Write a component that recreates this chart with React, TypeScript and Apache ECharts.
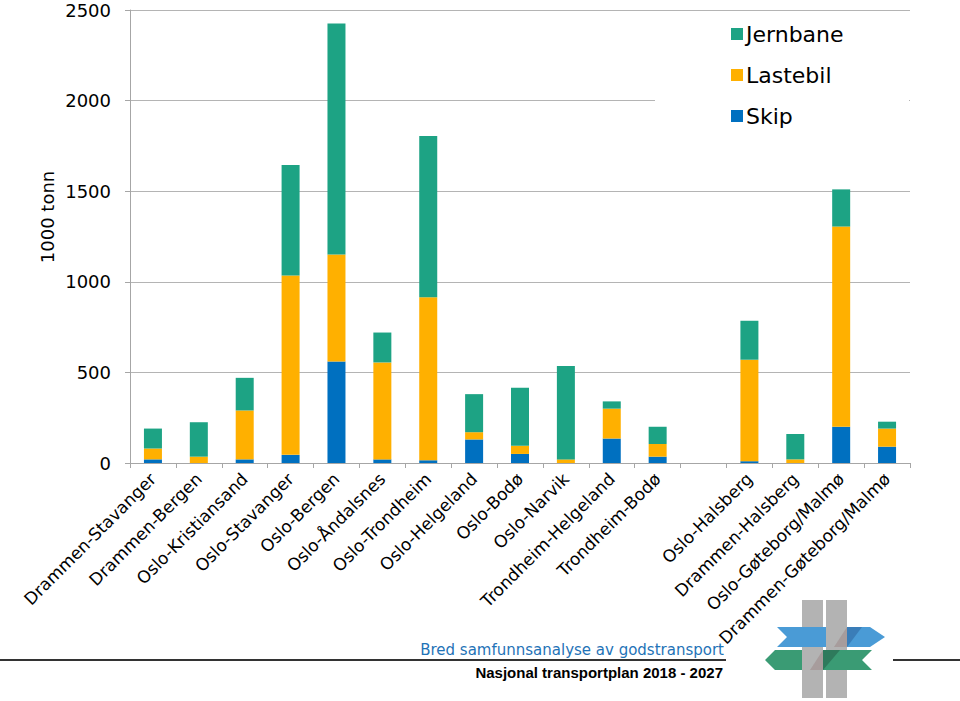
import React, { useEffect, useRef } from "react";
import * as echarts from "echarts";

const categories = [
  "Drammen-Stavanger", "Drammen-Bergen", "Oslo-Kristiansand", "Oslo-Stavanger",
  "Oslo-Bergen", "Oslo-Åndalsnes", "Oslo-Trondheim", "Oslo-Helgeland", "Oslo-Bodø",
  "Oslo-Narvik", "Trondheim-Helgeland", "Trondheim-Bodø", "", "Oslo-Halsberg",
  "Drammen-Halsberg", "Oslo-Gøteborg/Malmø", "Drammen-Gøteborg/Malmø",
];
const skip = [20, 0, 20, 45, 560, 20, 15, 130, 50, 0, 135, 35, null, 10, 0, 200, 90];
const lastebil = [60, 35, 270, 990, 590, 535, 900, 40, 45, 20, 165, 70, null, 560, 20, 1105, 100];
const jernbane = [110, 190, 180, 610, 1275, 165, 890, 210, 320, 515, 40, 95, null, 215, 140, 205, 38];
const seriesNames = ["Skip", "Lastebil", "Jernbane"];
const legendOrder = ["Jernbane", "Lastebil", "Skip"];
const yTicks = { min: 0, max: 2500, interval: 500 };
const yAxisTitle = "1000 tonn";
const footerTop = "Bred samfunnsanalyse av godstransport";
const footerBottom = "Nasjonal transportplan 2018 - 2027";

const COLORS = { Skip: "#0070C0", Lastebil: "#FFB000", Jernbane: "#1DA384" };
const FONT = "DejaVu Sans, Verdana, sans-serif";

export default function App() {
  const ref = useRef<HTMLDivElement>(null);
  useEffect(() => {
    if (!ref.current) return;
    const chart = echarts.init(ref.current, undefined, { renderer: "svg" });
    const dataMap: Record<string, (number | null)[]> = { Skip: skip, Lastebil: lastebil, Jernbane: jernbane };
    const grey = "#A6A6A6";
    const logoGrey = "#B3B3B3";
    chart.setOption({
      animation: false,
      grid: { left: 130, top: 10, width: 780, height: 453, containLabel: false },
      legend: {
        data: legendOrder,
        orient: "vertical",
        left: 726,
        top: 17,
        itemWidth: 12,
        itemHeight: 12,
        itemGap: 17,
        icon: "rect",
        textStyle: { fontFamily: FONT, fontSize: 22, color: "#000", lineHeight: 24, padding: [0, 0, 0, -2] },
        z: 10,
      },
      xAxis: {
        type: "category",
        data: categories,
        axisLine: { lineStyle: { color: grey, width: 1 } },
        axisTick: { show: true, length: 5, alignWithLabel: false, lineStyle: { color: grey } },
        axisLabel: {
          interval: 0,
          rotate: 45,
          margin: 13,
          fontFamily: FONT,
          fontSize: 17,
          color: "#000",
        },
      },
      yAxis: {
        type: "value",
        min: yTicks.min,
        max: yTicks.max,
        interval: yTicks.interval,
        axisLine: { show: true, lineStyle: { color: grey } },
        axisTick: { show: true, length: 5, lineStyle: { color: grey } },
        splitLine: { show: true, lineStyle: { color: "#B4B4B4", width: 1 } },
        axisLabel: { margin: 19, fontFamily: FONT, fontSize: 18, color: "#000", formatter: (v: number) => String(v) },
      },
      series: seriesNames.map((name) => ({
        name,
        type: "bar",
        stack: "total",
        barWidth: 18,
        data: dataMap[name],
        itemStyle: { color: (COLORS as any)[name] },
        z: 3,
      })),
      graphic: [
        { type: "rect", z: 1, shape: { x: 655, y: 14, width: 254, height: 172 }, style: { fill: "#fff" } },
        {
          type: "text", z: 5, x: 47, y: 217, rotation: Math.PI / 2,
          style: { text: yAxisTitle, fontFamily: FONT, fontSize: 18, fill: "#000", textAlign: "center", textVerticalAlign: "middle" },
        },
        { type: "rect", z: 5, shape: { x: 0, y: 659, width: 726, height: 2 }, style: { fill: "#333" } },
        { type: "rect", z: 5, shape: { x: 893, y: 659, width: 67, height: 2 }, style: { fill: "#333" } },
        {
          type: "text", z: 6, x: 724, y: 650,
          style: { text: footerTop, fontFamily: FONT, fontSize: 15, fill: "#1F73B7", textAlign: "right", textVerticalAlign: "middle" },
        },
        {
          type: "text", z: 6, x: 723, y: 672,
          style: { text: footerBottom, fontFamily: "Liberation Sans, Arial, sans-serif", fontWeight: "bold", fontSize: 15, fill: "#000", textAlign: "right", textVerticalAlign: "middle" },
        },
        { type: "rect", z: 6, shape: { x: 802, y: 600, width: 21, height: 98 }, style: { fill: logoGrey } },
        {
          type: "polygon", z: 7,
          shape: { points: [[777, 627], [870, 627], [885, 637], [870, 647], [777, 647], [787, 637]] },
          style: { fill: "#4A9BD6" },
        },
        { type: "polygon", z: 7, shape: { points: [[847, 627], [862, 627], [847, 647]] }, style: { fill: "#3A7DB8" } },
        { type: "rect", z: 8, shape: { x: 826, y: 600, width: 21, height: 98 }, style: { fill: logoGrey } },
        {
          type: "polygon", z: 9,
          shape: { points: [[765, 660], [775, 650], [872, 650], [862, 660], [872, 670], [775, 670]] },
          style: { fill: "#3A9B74" },
        },
        { type: "polygon", z: 9, shape: { points: [[823, 650], [840, 650], [823, 670]] }, style: { fill: "#2E7A5C" } },
        { type: "rect", z: 10, shape: { x: 802, y: 650, width: 21, height: 20 }, style: { fill: logoGrey } },
        { type: "polygon", z: 10, shape: { points: [[810, 670], [823, 650], [823, 670]] }, style: { fill: "#A79C9C" } },
        { type: "polygon", z: 8, shape: { points: [[834, 647], [847, 627], [847, 647]] }, style: { fill: "#A79C9C" } },
      ],
    });
    return () => chart.dispose();
  }, []);
  return <div ref={ref} style={{ position: "fixed", left: 0, top: 0, width: 960, height: 701, background: "#fff" }} />;
}
